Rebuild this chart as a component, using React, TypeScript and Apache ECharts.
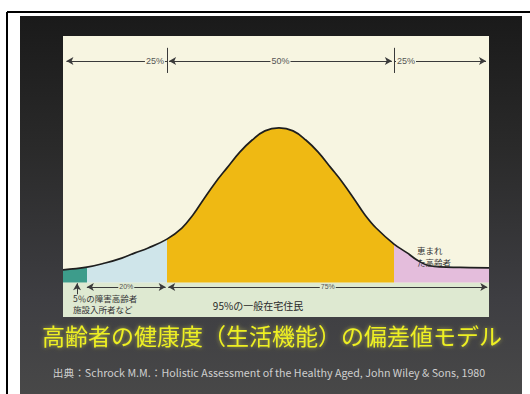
import React, { useEffect, useRef } from "react";
import * as echarts from "echarts";

// Health-score axis (0-100) and curve height (% of panel)
const curveX = [0, 5.6, 9.9, 13.8, 16.9, 20.0, 24.4, 27.9, 30.5, 32.9, 35.7, 38.5, 41.5, 44.4, 47.4, 50.7, 54.0, 57.0, 59.9, 62.9, 65.7, 68.5, 70.9, 73.5, 77.7, 80.8, 83.1, 85.4, 88.5, 93.2, 100];
const curveY = [5.1, 6.2, 7.9, 9.9, 12.0, 14.0, 17.6, 22.1, 27.4, 33.5, 40.4, 46.5, 52.9, 57.8, 61.5, 62.7, 61.5, 57.8, 52.9, 46.5, 40.4, 33.5, 27.4, 22.1, 15.6, 12.0, 9.1, 7.1, 6.3, 6.1, 5.9];

// Segment boundaries on the x scale and their fills
const bandEdges = [0, 5.6, 24.4, 77.7, 100];
const bandColors = ["#3d9c8b", "#cfe5ea", "#efb913", "#e4bddc"];

// Share labels
const topShares = ["25%", "50%", "25%"];
const bottomShares = ["20%", "75%"];
const topLineY = 89.9;
const topTick = [85.0, 95.2];
const bottomLineY = -1.8;
const yMin = -14;
const yMax = 100;

const title = "高齢者の健康度（生活機能）の偏差値モデル";
const source = "出典：Schrock M.M.：Holistic Assessment of the Healthy Aged, John Wiley & Sons, 1980";
const leftNote = ["5％の障害高齢者", "施設入所者など"];
const centerNote = "95%の一般在宅住民";
const rightNote = ["恵まれ", "た高齢者"];

const CREAM = "#f7f5e1";
const BAND = "#dee9d1";
const JP = '"Noto Sans CJK JP", "Noto Sans", sans-serif';

export default function App() {
  const ref = useRef<HTMLDivElement>(null);
  useEffect(() => {
    document.body.style.margin = "0";
    if (!ref.current) return;
    const chart = echarts.init(ref.current, null, { renderer: "svg" });
    const data = curveX.map((x, i) => [x, curveY[i]]);

    const lbl = (text: string, position: string, bg: string, size = 9, distance = 2) => ({
      show: true,
      formatter: text,
      position,
      distance,
      color: "#555",
      fontSize: size,
      fontFamily: '"Liberation Sans Narrow", "Liberation Sans", sans-serif',
      backgroundColor: bg,
      padding: [0, 1],
    });

    const markLines: any[] = [
      [
        { coord: [0.8, topLineY], symbol: "arrow" },
        { coord: [bandEdges[2], topLineY], symbol: "none", label: lbl(topShares[0], "insideEnd", CREAM) },
      ],
      [
        { coord: [bandEdges[2] + 0.5, topLineY], symbol: "arrow" },
        { coord: [bandEdges[3] - 0.5, topLineY], symbol: "arrow", label: lbl(topShares[1], "insideMiddle", CREAM) },
      ],
      [
        { coord: [bandEdges[3], topLineY], symbol: "none" },
        { coord: [99.3, topLineY], symbol: "arrow", label: lbl(topShares[2], "insideStart", CREAM) },
      ],
      [
        { coord: [bandEdges[2], topTick[0]], symbol: "none" },
        { coord: [bandEdges[2], topTick[1]], symbol: "none" },
      ],
      [
        { coord: [bandEdges[3], topTick[0]], symbol: "none" },
        { coord: [bandEdges[3], topTick[1]], symbol: "none" },
      ],
      [
        { coord: [bandEdges[1], bottomLineY], symbol: "arrow" },
        { coord: [bandEdges[2] - 0.3, bottomLineY], symbol: "arrow", label: lbl(bottomShares[0], "insideMiddle", BAND, 7) },
      ],
      [
        { coord: [bandEdges[2] + 0.3, bottomLineY], symbol: "arrow" },
        { coord: [99.6, bottomLineY], symbol: "arrow", label: lbl(bottomShares[1], "insideMiddle", BAND, 7) },
      ],
      [
        { coord: [3.3, -0.3], symbol: "arrow" },
        { coord: [3.3, -4.8], symbol: "none" },
      ],
    ];

    const pieces = bandColors.map((c, i) =>
      i === bandColors.length - 1
        ? { gte: bandEdges[i], lte: bandEdges[i + 1], color: c }
        : { gte: bandEdges[i], lt: bandEdges[i + 1], color: c }
    );

    chart.setOption({
      animation: false,
      grid: { left: 63, right: 41, top: 36, bottom: 77, outerBoundsMode: "none", containLabel: false },
      xAxis: { type: "value", min: 0, max: 100, show: false },
      yAxis: { type: "value", min: yMin, max: yMax, show: false },
      visualMap: {
        show: false,
        type: "piecewise",
        dimension: 0,
        seriesIndex: 0,
        pieces,
      },
      series: [
        {
          type: "line",
          data,
          smooth: 0.4,
          showSymbol: false,
          lineStyle: { width: 0 },
          areaStyle: { opacity: 1 },
          silent: true,
          z: 2,
        },
        {
          type: "line",
          data,
          smooth: 0.4,
          showSymbol: false,
          lineStyle: { color: "#1e1e1e", width: 1.7 },
          itemStyle: { color: "#1e1e1e" },
          silent: true,
          z: 3,
          markArea: {
            silent: true,
            label: { show: false },
            data: [[{ coord: [0, yMin], itemStyle: { color: BAND, opacity: 1 } }, { coord: [100, 0] }]],
          },
          markLine: {
            silent: true,
            animation: false,
            symbolSize: [6, 7],
            label: { show: false },
            lineStyle: { color: "#3a3a3a", width: 1, type: "solid" },
            emphasis: { disabled: true },
            data: markLines,
          },
        },
      ],
      graphic: [
        {
          type: "rect",
          z: -10,
          silent: true,
          shape: { x: 20, y: 16, width: 502, height: 378 },
          style: {
            fill: {
              type: "linear", x: 0, y: 0, x2: 0, y2: 1,
              colorStops: [
                { offset: 0, color: "#1a1a1a" },
                { offset: 0.35, color: "#2a2a2a" },
                { offset: 0.75, color: "#3e3e42" },
                { offset: 1, color: "#484848" },
              ],
            },
          },
        },
        { type: "rect", z: -5, silent: true, shape: { x: 63, y: 36, width: 426, height: 247 }, style: { fill: CREAM } },
        { type: "line", z: 20, silent: true, shape: { x1: 7, y1: 12, x2: 530, y2: 12 }, style: { stroke: "#000", lineWidth: 2 } },
        { type: "line", z: 20, silent: true, shape: { x1: 7, y1: 12, x2: 7, y2: 394 }, style: { stroke: "#000", lineWidth: 2 } },
        {
          type: "text", z: 20, silent: true, x: 73, y: 298,
          style: { text: leftNote[0], fill: "#333", fontSize: 8.5, fontFamily: JP, textAlign: "left", textVerticalAlign: "middle", align: "left", verticalAlign: "middle" },
        },
        {
          type: "text", z: 20, silent: true, x: 73, y: 309,
          style: { text: leftNote[1], fill: "#333", fontSize: 8.5, fontFamily: JP, textAlign: "left", textVerticalAlign: "middle", align: "left", verticalAlign: "middle" },
        },
        {
          type: "text", z: 20, silent: true, x: 258, y: 305,
          style: { text: centerNote, fill: "#2a2a2a", fontSize: 10, fontFamily: JP, textAlign: "center", textVerticalAlign: "middle", align: "center", verticalAlign: "middle" },
        },
        {
          type: "text", z: 20, silent: true, x: 417, y: 250,
          style: { text: rightNote[0], fill: "#333", fontSize: 8.5, fontFamily: JP, textAlign: "left", textVerticalAlign: "middle", align: "left", verticalAlign: "middle" },
        },
        {
          type: "text", z: 20, silent: true, x: 417, y: 262,
          style: { text: rightNote[1], fill: "#333", fontSize: 8.5, fontFamily: JP, textAlign: "left", textVerticalAlign: "middle", align: "left", verticalAlign: "middle" },
        },
        {
          type: "text", z: 20, silent: true, x: 272, y: 335,
          style: {
            text: title, fill: "#eef020", fontSize: 23, fontFamily: JP,
            textAlign: "center", textVerticalAlign: "middle", align: "center", verticalAlign: "middle",
            textShadowColor: "rgba(255,255,80,0.55)", textShadowBlur: 4,
          },
        },
        {
          type: "text", z: 20, silent: true, x: 269, y: 372,
          style: { text: source, fill: "#cfcfcf", fontSize: 10.7, fontFamily: JP, textAlign: "center", textVerticalAlign: "middle", align: "center", verticalAlign: "middle" },
        },
      ],
    });
    return () => chart.dispose();
  }, []);
  return <div ref={ref} style={{ width: 530, height: 394, background: "#fff" }} />;
}
